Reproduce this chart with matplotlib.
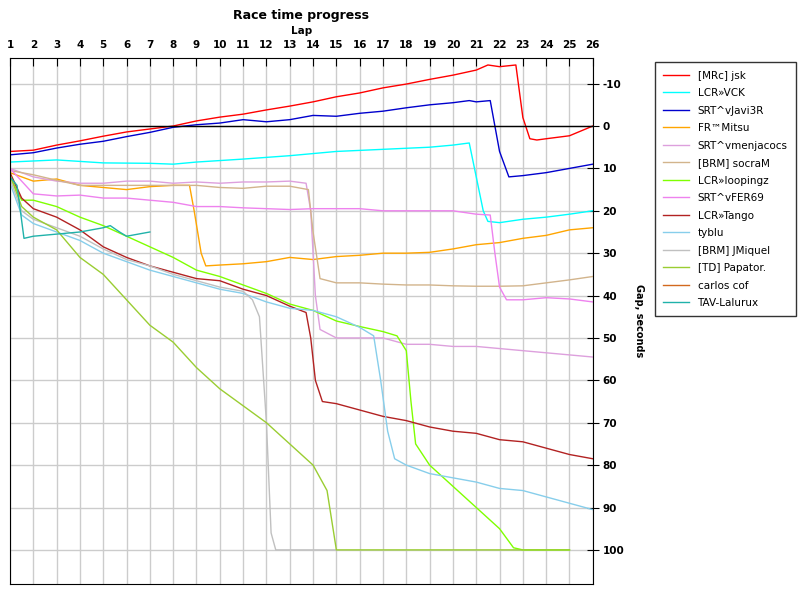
import numpy as np
import matplotlib
matplotlib.use('Agg')
import matplotlib.pyplot as plt

plt.rcParams['axes.unicode_minus'] = False

names = ['[MRc] jsk', 'LCR»VCK', 'SRT^vJavi3R', 'FR™Mitsu', 'SRT^vmenjacocs', '[BRM] socraM',
         'LCR»loopingz', 'SRT^vFER69', 'LCR»Tango', 'tyblu', '[BRM] JMiquel', '[TD] Papator.',
         'carlos cof', 'TAV-Lalurux']
colors = ['#ff0000', '#00ffff', '#0000cd', '#ffa500', '#dda0dd', '#d2b48c',
          '#7fff00', '#ee82ee', '#b22222', '#87ceeb', '#c0c0c0', '#9acd32',
          '#d2691e', '#20b2aa']

# (lap, gap seconds) per driver
jsk_x = [1, 2, 3, 4, 5, 6, 7, 8, 9, 10, 11, 12, 13, 14, 15, 16, 17, 18, 19, 20, 21, 21.5, 22, 22.7, 23, 23.3, 23.6, 24, 25, 26]
jsk_y = [6, 5.7, 4.5, 3.5, 2.4, 1.4, 0.7, 0, -1.2, -2.1, -2.8, -3.8, -4.7, -5.7, -6.9, -7.8, -9, -9.9, -11, -12, -13.2, -14.4, -14, -14.4, -2, 3, 3.3, 3, 2.3, 0]
vck_x = [1, 3, 5, 7, 8, 9, 11, 13, 15, 17, 19, 20, 20.7, 21, 21.3, 21.5, 22, 23, 24, 25, 26]
vck_y = [8.5, 8, 8.7, 8.8, 9, 8.5, 7.8, 7, 6, 5.5, 5, 4.5, 4, 12, 20, 22.5, 22.8, 22, 21.5, 20.8, 20]
javi_x = [1, 2, 3, 4, 5, 6, 7, 8, 9, 10, 11, 12, 13, 14, 15, 16, 17, 18, 19, 20, 20.7, 21, 21.6, 21.8, 22, 22.4, 23, 24, 25, 26]
javi_y = [6.8, 6.3, 5.2, 4.3, 3.6, 2.5, 1.5, 0.3, -0.3, -0.7, -1.5, -1, -1.5, -2.5, -2.3, -3, -3.5, -4.3, -5, -5.5, -6, -5.7, -6, 0, 6, 12, 11.7, 11, 10, 9]
mitsu_x = [1, 2, 3, 4, 5, 6, 7, 8, 8.7, 8.9, 9.2, 9.4, 10, 11, 12, 13, 14, 15, 16, 17, 18, 19, 20, 21, 22, 23, 24, 25, 26]
mitsu_y = [11, 13, 12.5, 14, 14.5, 15, 14.3, 14, 14, 20, 30, 33, 32.8, 32.5, 32, 31, 31.5, 30.8, 30.5, 30, 30, 29.8, 29, 28, 27.5, 26.5, 25.8, 24.5, 24]
menja_x = [1, 2, 3, 4, 5, 6, 7, 8, 9, 10, 11, 12, 13, 13.7, 13.9, 14.1, 14.3, 15, 16, 17, 18, 19, 20, 21, 22, 23, 24, 25, 26]
menja_y = [10, 12, 13, 13.5, 13.5, 13, 13, 13.5, 13.2, 13.5, 13.2, 13.2, 13, 13.5, 20, 40, 48, 50, 50, 50, 51.5, 51.5, 52, 52, 52.5, 53, 53.5, 54, 54.5]
socra_x = [1, 2, 3, 4, 5, 6, 7, 8, 9, 10, 11, 12, 13, 13.8, 14, 14.3, 15, 16, 17, 18, 19, 20, 21, 22, 23, 24, 25, 26]
socra_y = [10.5, 11.5, 12.8, 14, 14, 14, 14, 14, 14, 14.5, 14.7, 14.2, 14.2, 15, 25, 36, 37, 37, 37.3, 37.5, 37.5, 37.7, 37.8, 37.8, 37.7, 37, 36.3, 35.5]
loop_x = [1, 1.5, 2, 3, 4, 5, 6, 7, 8, 9, 10, 11, 12, 13, 14, 15, 16, 17, 17.6, 18, 18.2, 18.4, 19, 20, 21, 22, 22.6, 23, 25]
loop_y = [12, 17.5, 17.5, 19, 21.5, 23.5, 26, 28.5, 31, 34, 35.5, 37.5, 39.5, 42, 43.5, 46, 47.3, 48.5, 49.5, 53, 65, 75, 80, 85, 90, 95, 99.5, 100, 100]
fer_x = [1, 2, 3, 4, 5, 6, 7, 8, 9, 10, 11, 12, 13, 14, 15, 16, 17, 18, 19, 20, 21, 21.6, 21.8, 22, 22.3, 23, 24, 25, 26]
fer_y = [10, 16, 16.5, 16.3, 17, 17, 17.5, 18, 19, 19, 19.3, 19.5, 19.7, 19.5, 19.5, 19.5, 20, 20, 20, 20, 20.8, 21, 30, 38, 41, 41, 40.5, 40.8, 41.5]
tango_x = [1, 1.5, 2, 3, 4, 5, 6, 7, 8, 9, 10, 11, 12, 13, 13.7, 13.9, 14.1, 14.4, 15, 16, 17, 18, 19, 20, 21, 22, 23, 24, 25, 26]
tango_y = [11, 17, 19.5, 21.5, 24.5, 28.5, 31, 33, 34.5, 36, 36.5, 38.5, 40, 42.5, 44, 50, 60, 65, 65.5, 67, 68.5, 69.5, 71, 72, 72.5, 74, 74.5, 76, 77.5, 78.5]
tyblu_x = [1, 1.5, 2, 3, 4, 5, 6, 7, 8, 9, 10, 11, 12, 13, 14, 15, 16, 16.6, 16.9, 17.2, 17.5, 18, 19, 20, 21, 22, 23, 24, 25, 26]
tyblu_y = [13.5, 21, 23, 25, 27, 30, 32, 34, 35.5, 37, 38.5, 39.5, 41.5, 43, 43.5, 45, 47.5, 49.5, 60, 72, 78.5, 80, 82, 83, 84, 85.5, 86, 87.5, 89, 90.5]
jmiq_x = [1, 1.5, 2, 3, 4, 5, 6, 7, 8, 9, 10, 11, 11.4, 11.7, 12, 12.2, 12.4, 15]
jmiq_y = [12.5, 20, 22, 24, 26, 29, 31.5, 33, 35, 36.5, 38, 39, 41, 45, 70, 96, 100, 100]
papa_x = [1, 1.5, 2, 3, 4, 5, 6, 7, 8, 9, 10, 11, 12, 13, 14, 14.6, 15, 25]
papa_y = [11.5, 19, 21.5, 24.5, 31, 35, 41, 47, 51, 57, 62, 66, 70, 75, 80, 86, 100, 100]
carlos_x = []
carlos_y = []
tav_x = [1, 1.3, 1.6, 2, 3, 4, 5, 5.3, 5.7, 6, 7]
tav_y = [12, 14, 26.5, 26, 25.5, 25, 24, 23.5, 25, 26, 25]

xs = [jsk_x, vck_x, javi_x, mitsu_x, menja_x, socra_x, loop_x, fer_x, tango_x, tyblu_x, jmiq_x, papa_x, carlos_x, tav_x]
ys = [jsk_y, vck_y, javi_y, mitsu_y, menja_y, socra_y, loop_y, fer_y, tango_y, tyblu_y, jmiq_y, papa_y, carlos_y, tav_y]

fig = plt.figure(figsize=(8, 6), dpi=100)
ax = fig.add_axes([0.0125, 0.027, 0.7285, 0.876])

lines = []
for x, y, c, n in zip(xs, ys, colors, names):
    l, = ax.plot(x, y, color=c, lw=1, label=n)
    lines.append(l)

ax.axhline(0, color='black', lw=1)
ax.set_xlim(1, 26)
ax.set_ylim(108, -16)
ax.set_xticks(range(1, 27))
ax.set_yticks(range(-10, 101, 10))
ax.grid(True, color='#cccccc', lw=1)
ax.set_axisbelow(True)
ax.xaxis.tick_top()
ax.xaxis.set_label_position('top')
ax.yaxis.tick_right()
ax.yaxis.set_label_position('right')
ax.tick_params(axis='both', direction='in', length=5, labelsize=7.5, pad=3)
ax.tick_params(axis='x', direction='in', length=6, pad=6)
ax.tick_params(axis='y', direction='inout', length=8)
for t in ax.get_xticklabels() + ax.get_yticklabels():
    t.set_fontweight('bold')
ax.set_xlabel('Lap', fontsize=7.5, fontweight='bold', labelpad=4)
ax.set_ylabel('Gap, seconds', fontsize=7, fontweight='bold', rotation=270, labelpad=14)
ax.set_title('Race time progress', fontsize=9, fontweight='bold', pad=28)

fig.legend(handles=lines, loc='upper left', bbox_to_anchor=(0.812, 0.905), fontsize=7.5,
           frameon=True, fancybox=False, edgecolor='black', handlelength=2.5,
           labelspacing=0.72, borderpad=0.8).get_frame().set_linewidth(1)

fig.savefig('out.png', dpi=100)
